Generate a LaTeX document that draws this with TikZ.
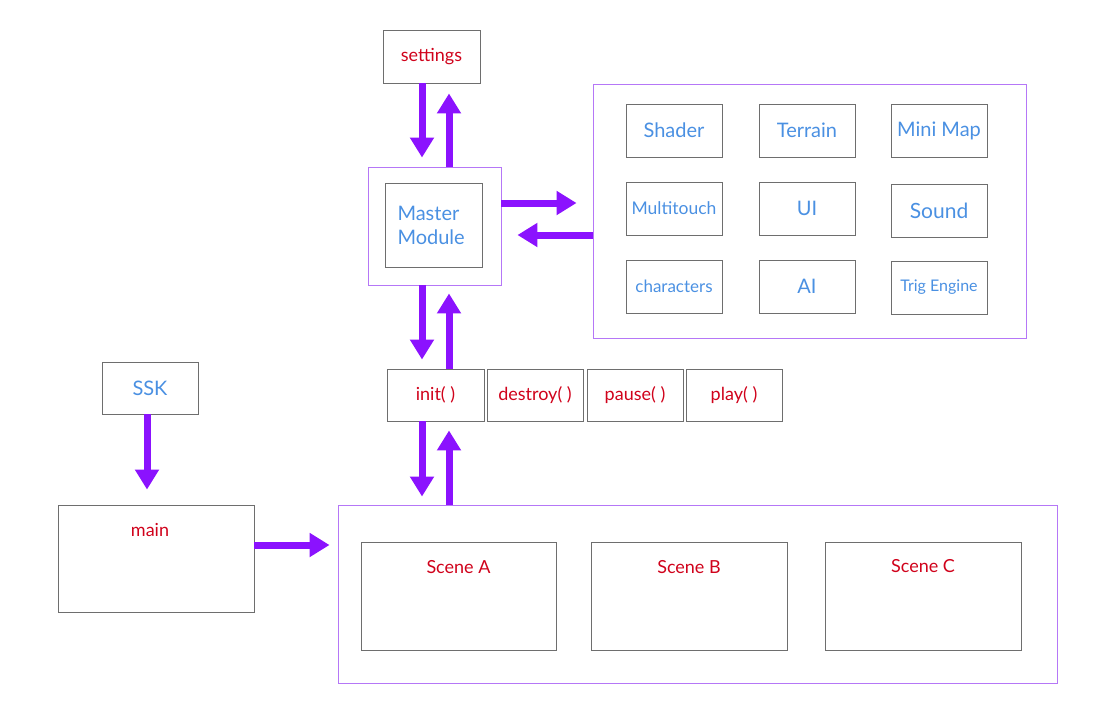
\documentclass[tikz,border=0pt]{standalone}
\usepackage{fontspec}
\setmainfont{Lato}
\usepackage{xcolor}
\usepackage{tikz}
\usetikzlibrary{arrows.meta,calc}
\definecolor{pfeilviolett}{HTML}{8B12FE}
\definecolor{rahmenviolett}{HTML}{B577F7}
\definecolor{kastengrau}{HTML}{6E6E6E}
\definecolor{textrot}{HTML}{D0021B}
\definecolor{textblau}{HTML}{4A90E2}
\tikzset{
  kasten/.style={draw=kastengrau,line width=0.9pt,minimum width=97pt,minimum height=53pt,inner sep=0pt},
  rahmen/.style={draw=rahmenviolett,line width=0.9pt,inner sep=0pt},
  rot/.style={text=textrot,font=\fontsize{18}{21}\selectfont},
  blau/.style={text=textblau,font=\fontsize{20}{24}\selectfont},
  fett/.style={draw=pfeilviolett,line width=7pt,-{Triangle[length=20pt,width=23pt]}}
}

\begin{document}
\begin{tikzpicture}[x=1pt,y=-1pt]
  \useasboundingbox (0,0) rectangle (1097,710);
  % Spalten der Doppelpfeile
  \coordinate (links) at (422,0);
  \coordinate (rechts) at (449,0);
  \coordinate (hin) at (0,203);
  \coordinate (rueck) at (0,235);
  \coordinate (ssklinie) at (147,0);
  \coordinate (mainlinie) at (0,545);
  % oben: settings und Master Module
  \node[kasten,rot] (settings) at (431.5,56.5) {settings};
  \node[rahmen,minimum width=133pt,minimum height=118pt] (masteraussen) at (434.5,226) {};
  \node[kasten,blau,minimum height=84pt,text width=72pt,align=left] (master) at (433.5,225) {Master\\Module};
  % Module rechts
  \node[rahmen,minimum width=433pt,minimum height=254pt] (module) at (809.5,211) {};
  \node[kasten,blau,minimum width=96pt] (shader) at (674,130.5) {Shader};
  \node[kasten,blau,minimum width=96pt] (terrain) at (807,130.5) {Terrain};
  \node[kasten,blau,minimum width=96pt] (minimap) at (939,130.5) {Mini Map};
  \node[kasten,blau,minimum width=96pt,font=\fontsize{17.5}{20}\selectfont] (multitouch) at (674,208.5) {Multitouch};
  \node[kasten,blau,minimum width=96pt] (ui) at (807,208.5) {UI};
  \node[kasten,blau,minimum width=96pt,font=\fontsize{21}{24}\selectfont] (sound) at (939,211) {Sound};
  \node[kasten,blau,minimum width=96pt,font=\fontsize{17}{20}\selectfont] (characters) at (674,286.5) {characters};
  \node[kasten,blau,minimum width=96pt] (ai) at (807,286.5) {AI};
  \node[kasten,blau,minimum width=96pt,font=\fontsize{16}{19}\selectfont] (trig) at (939,287.5) {Trig Engine};
  % Lebenszyklus
  \node[kasten,rot,minimum height=52pt] (init) at (435.5,395) {init( )};
  \node[kasten,rot,minimum width=96pt,minimum height=52pt] (destroy) at (535,395) {destroy( )};
  \node[kasten,rot,minimum width=96pt,minimum height=52pt] (pause) at (635,395) {pause( )};
  \node[kasten,rot,minimum width=96pt,minimum height=52pt] (play) at (734,395) {play( )};
  % links: SSK und main
  \node[kasten,blau,minimum width=96pt,minimum height=52pt] (ssk) at (150,388) {SSK};
  \node[kasten,minimum width=196pt,minimum height=107pt] (main) at (156,558.5) {};
  \node[rot] (mainname) at ([xshift=-6pt,yshift=-25pt]main.north) {main};
  % Szenen
  \node[rahmen,minimum width=719pt,minimum height=178pt] (szenen) at (697.5,594) {};
  \node[kasten,minimum width=195pt,minimum height=108pt] (szeneA) at (458.5,596) {};
  \node[kasten,minimum width=196pt,minimum height=108pt] (szeneB) at (689,596) {};
  \node[kasten,minimum width=196pt,minimum height=108pt] (szeneC) at (923,596) {};
  \node[rot] (nameA) at ([yshift=-25pt]szeneA.north) {Scene A};
  \node[rot] (nameB) at ([yshift=-25pt]szeneB.north) {Scene B};
  \node[rot] (nameC) at ([yshift=-24pt]szeneC.north) {Scene C};
  % Pfeile
  \draw[fett,shorten >=9pt] (settings.south -| links) -- (masteraussen.north -| links);
  \draw[fett,shorten >=10pt] (masteraussen.north -| rechts) -- (settings.south -| rechts);
  \draw[fett,shorten >=16pt] (masteraussen.east |- hin) -- (module.west |- hin);
  \draw[fett,shorten >=16pt] (module.west |- rueck) -- (masteraussen.east |- rueck);
  \draw[fett,shorten >=9pt] (masteraussen.south -| links) -- (init.north -| links);
  \draw[fett,shorten >=8pt] (init.north -| rechts) -- (masteraussen.south -| rechts);
  \draw[fett,shorten >=8pt] (init.south -| links) -- (szenen.north -| links);
  \draw[fett,shorten >=9pt] (szenen.north -| rechts) -- (init.south -| rechts);
  \draw[fett,shorten >=15pt] (ssk.south -| ssklinie) -- (main.north -| ssklinie);
  \draw[fett,shorten >=8pt] (main.east |- mainlinie) -- (szenen.west |- mainlinie);
\end{tikzpicture}
\end{document}
